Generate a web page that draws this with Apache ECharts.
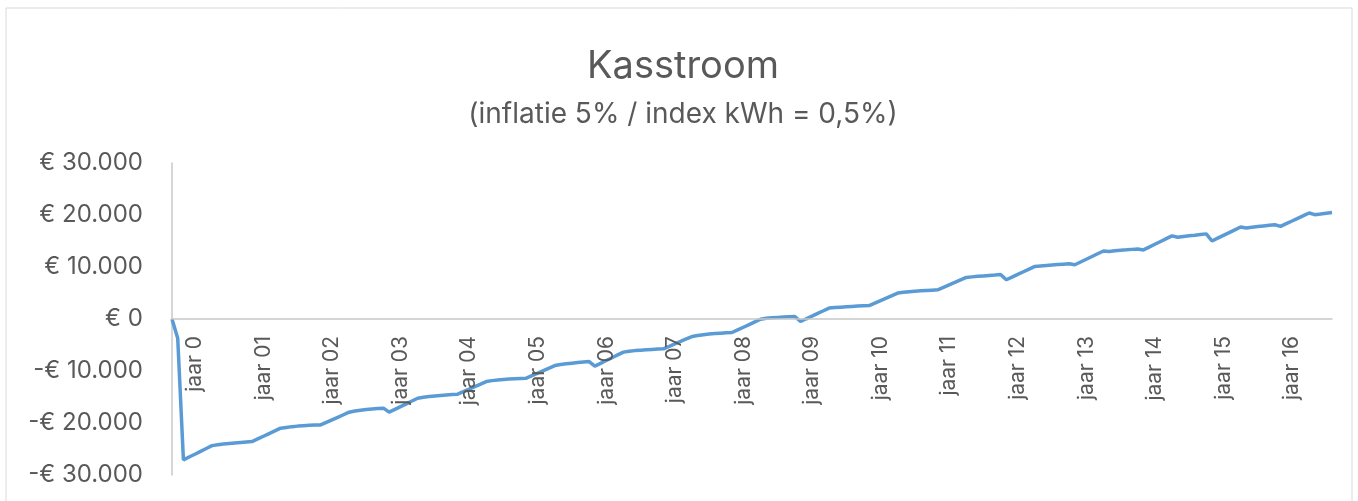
<!DOCTYPE html>
<html>
<head>
<meta charset="utf-8">
<script src="https://cdn.jsdelivr.net/npm/echarts@6/dist/echarts.min.js"></script>
<style>html,body{margin:0;padding:0;background:#fff;}#chart{width:1358px;height:501px;}</style>
</head>
<body>
<div id="chart"></div>
<script>
const titleText = 'Kasstroom';
const subtitleText = '(inflatie 5% / index kWh = 0,5%)';
const tickLabels = ['jaar 0','jaar 01','jaar 02','jaar 03','jaar 04','jaar 05','jaar 06','jaar 07','jaar 08','jaar 09','jaar 10','jaar 11','jaar 12','jaar 13','jaar 14','jaar 15','jaar 16'];
const firstLabelIndex = 4;
const monthsPerYear = 12;
const cashflow = [
  0, -3700, -27100, -26550, -26000, -25450, -24900, -24350, -24200, -24050, -23950, -23850,
  -23750, -23650, -23580, -23060, -22550, -22030, -21520, -21000, -20850, -20700, -20600, -20520,
  -20450, -20400, -20370, -19880, -19390, -18900, -18410, -17920, -17700, -17530, -17400, -17300,
  -17220, -17150, -17920, -17380, -16840, -16310, -15770, -15230, -15050, -14920, -14800, -14700,
  -14600, -14520, -14460, -13970, -13490, -13000, -12520, -12030, -11850, -11720, -11620, -11530,
  -11470, -11420, -11380, -10890, -10410, -9920, -9440, -8950, -8750, -8620, -8500, -8380,
  -8270, -8180, -9070, -8530, -7990, -7450, -6910, -6370, -6200, -6080, -5990, -5920,
  -5850, -5790, -5740, -5270, -4790, -4320, -3840, -3370, -3180, -3020, -2900, -2800,
  -2720, -2650, -2600, -2090, -1580, -1070, -560, -50, 130, 220, 300, 370,
  430, 480, -480, 40, 550, 1070, 1580, 2100, 2200, 2280, 2350, 2420,
  2480, 2530, 2580, 3060, 3540, 4030, 4510, 4990, 5150, 5250, 5330, 5410,
  5480, 5550, 5620, 6090, 6570, 7040, 7520, 7990, 8100, 8200, 8290, 8380,
  8470, 8570, 7550, 8060, 8570, 9090, 9600, 10110, 10200, 10290, 10380, 10460,
  10540, 10620, 10430, 10960, 11490, 12020, 12550, 13080, 12990, 13130, 13220, 13300,
  13390, 13470, 13280, 13820, 14370, 14910, 15450, 15990, 15730, 15880, 16000, 16120,
  16250, 16370, 15000, 15540, 16080, 16610, 17150, 17690, 17500, 17650, 17780, 17900,
  18020, 18130, 17810, 18330, 18840, 19360, 19870, 20390, 20060, 20200, 20350, 20500
];
const months = cashflow.map((_, i) => i);

const textColor = '#595959';
const fontFam = 'Inter, "Open Sans", sans-serif';

const gridTop = 163, gridBottom = 26, chartH = 501;
const plotH = chartH - gridTop - gridBottom;

function isLabelIdx(i) {
  return i >= firstLabelIndex && (i - firstLabelIndex) % monthsPerYear === 0;
}
function euro(v) {
  const abs = Math.abs(v);
  const s = abs.toString().replace(/\B(?=(\d{3})+(?!\d))/g, '.');
  return (v < 0 ? '-€ ' : '€ ') + s;
}

const chart = echarts.init(document.getElementById('chart'), null, {renderer: 'canvas'});
chart.setOption({
  backgroundColor: '#ffffff',
  animation: false,
  graphic: [
    {
      type: 'rect', x: 6, y: 8, silent: true,
      shape: {width: 1346, height: 500},
      style: {fill: 'none', stroke: '#d9d9d9', lineWidth: 1}
    },
    {
      type: 'text', x: 683, y: 67, silent: true,
      style: {text: titleText, fill: textColor, font: '38px ' + fontFam, textAlign: 'center', textVerticalAlign: 'middle'}
    },
    {
      type: 'text', x: 683, y: 115, silent: true,
      style: {text: subtitleText, fill: textColor, font: '28px ' + fontFam, textAlign: 'center', textVerticalAlign: 'middle'}
    }
  ],
  grid: {left: 172, right: 26, top: gridTop, bottom: gridBottom, containLabel: false, outerBoundsMode: 'none'},
  xAxis: {
    type: 'category',
    data: months,
    boundaryGap: false,
    offset: -plotH / 2,
    z: 5,
    axisLine: {show: true, onZero: false, lineStyle: {color: '#c8c8c8', width: 1.5}},
    axisTick: {show: false},
    splitLine: {show: false},
    axisLabel: {
      rotate: 90,
      margin: 17,
      color: textColor,
      fontSize: 21,
      fontFamily: fontFam,
      interval: (i) => isLabelIdx(i),
      formatter: (v, i) => isLabelIdx(i) ? tickLabels[(i - firstLabelIndex) / monthsPerYear] : ''
    }
  },
  yAxis: {
    type: 'value',
    min: -30000,
    max: 30000,
    interval: 10000,
    axisLine: {show: true, lineStyle: {color: '#c8c8c8', width: 1.5}},
    axisTick: {show: false},
    splitLine: {show: false},
    axisLabel: {
      margin: 29,
      color: textColor,
      fontSize: 24,
      fontFamily: fontFam,
      formatter: euro
    }
  },
  series: [{
    type: 'line',
    data: cashflow,
    showSymbol: false,
    symbol: 'none',
    z: 3,
    lineStyle: {color: '#5b9bd5', width: 3.5},
    itemStyle: {color: '#5b9bd5'}
  }]
});
</script>
</body>
</html>
